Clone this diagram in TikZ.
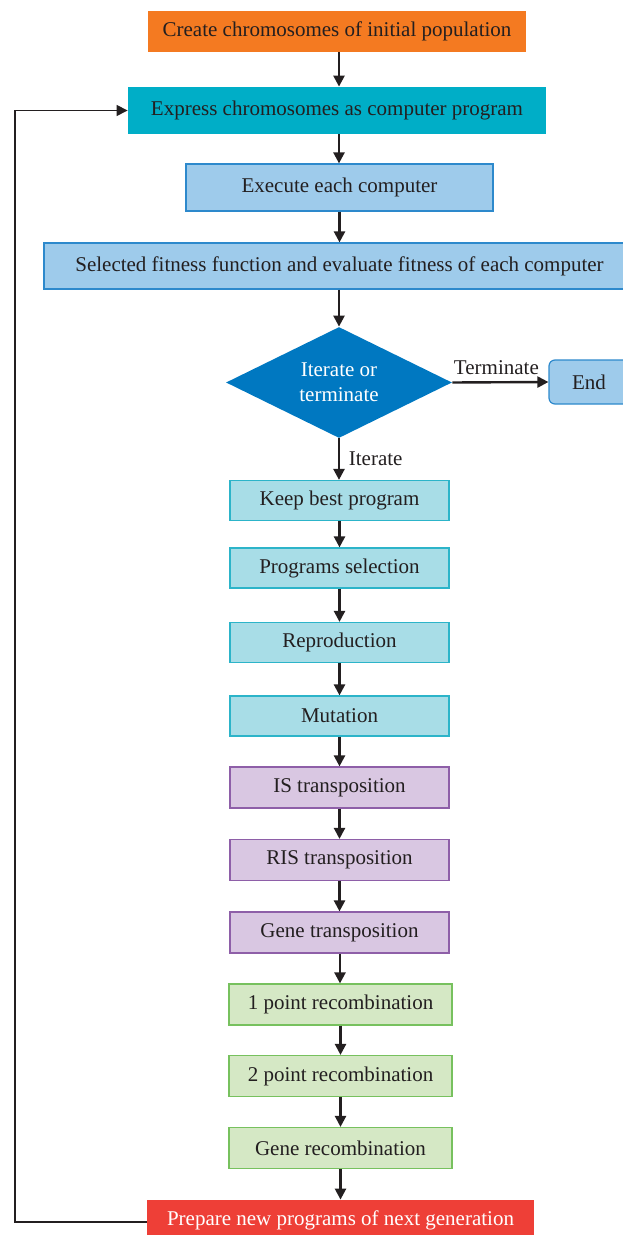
\documentclass[tikz,border=0pt]{standalone}
\usepackage{fontspec}
\setmainfont{Liberation Serif}
\usetikzlibrary{arrows.meta,shapes.geometric}
\definecolor{orangebox}{HTML}{F47A21}
\definecolor{tealbox}{HTML}{00AEC7}
\definecolor{bluefill}{HTML}{9ECBEB}
\definecolor{blueline}{HTML}{2D89CC}
\definecolor{diamondblue}{HTML}{0078C1}
\definecolor{cyanfill}{HTML}{A8DDE7}
\definecolor{cyanline}{HTML}{2CB4C9}
\definecolor{purplefill}{HTML}{D9C7E2}
\definecolor{purpleline}{HTML}{8E5FA8}
\definecolor{greenfill}{HTML}{D5E8C5}
\definecolor{greenline}{HTML}{77C15E}
\definecolor{redbox}{HTML}{EE3F37}
\definecolor{textgray}{HTML}{231F20}
\tikzset{
  box/.style={rectangle, inner sep=0pt, text=textgray, font=\fontsize{10.5}{12.5}\selectfont},
  bluebox/.style={box, fill=bluefill, draw=blueline, line width=0.6pt},
  cyanbox/.style={box, fill=cyanfill, draw=cyanline, line width=0.6pt, minimum width=109.5pt, minimum height=20pt},
  purplebox/.style={box, fill=purplefill, draw=purpleline, line width=0.6pt, minimum width=109.5pt, minimum height=20.5pt},
  greenbox/.style={box, fill=greenfill, draw=greenline, line width=0.6pt, minimum width=111.5pt, minimum height=20.5pt},
  flow/.style={line width=1.2pt, textgray, -{Triangle[width=5.5pt,length=5.5pt]}},
  lbl/.style={text=textgray, font=\fontsize{10.5}{12.5}\selectfont}
}
\begin{document}
\begin{tikzpicture}[x=0.5pt, y=-0.5pt]
  \useasboundingbox (0,0) rectangle (622,1235);
  % top part
  \node[box, fill=orangebox, minimum width=189pt, minimum height=20.5pt] (create) at (337,31.5) {Create chromosomes of initial population};
  \node[box, fill=tealbox, minimum width=209pt, minimum height=23.5pt] (express) at (337,110.5) {Express chromosomes as computer program};
  \node[bluebox, minimum width=153.5pt, minimum height=23.5pt] (execute) at (339.5,187.5) {Execute each computer};
  \node[bluebox, minimum width=295.5pt, minimum height=23pt] (fitness) at (339.5,266) {Selected fitness function and evaluate fitness of each computer};
  \node[diamond, aspect=2.04, fill=diamondblue, inner sep=0pt, minimum width=113pt, minimum height=55.5pt, align=center, text=white, font=\fontsize{10.5}{12.5}\selectfont] (decide) at (339,382.5) {Iterate or\\terminate};
  \node[bluebox, rounded corners=3pt, minimum width=40pt, minimum height=22pt] (finish) at (589,382) {End};
  % operators
  \node[cyanbox] (keep) at (339.5,500.5) {Keep best program};
  \node[cyanbox] (select) at (339.5,568) {Programs selection};
  \node[cyanbox] (reprod) at (339.5,642.5) {Reproduction};
  \node[cyanbox] (mutate) at (339.5,716) {Mutation};
  \node[purplebox] (istr) at (339.5,787.5) {IS transposition};
  \node[purplebox] (ristr) at (339.5,860) {RIS transposition};
  \node[purplebox] (genetr) at (339.5,932.5) {Gene transposition};
  \node[greenbox] (onept) at (340.5,1004.5) {1 point recombination};
  \node[greenbox] (twopt) at (340.5,1076) {2 point recombination};
  \node[greenbox] (generec) at (340.5,1148) {Gene recombination};
  \node[box, fill=redbox, text=white, minimum width=193.5pt, minimum height=20.5pt] (prepare) at (340.5,1220.5) {Prepare new programs of next generation};
  % arrows
  \draw[flow] (create.south -| 339,0) -- (express.north -| 339,0);
  \draw[flow] (express.south -| 339,0) -- (execute.north -| 339,0);
  \draw[flow] (execute) -- (fitness);
  \draw[flow] (fitness.south -| 339,0) -- (decide.north);
  \draw[flow] (decide.east) -- node[lbl, above, xshift=-2pt] {Terminate} (finish.west);
  \draw[flow] (decide.south) -- node[lbl, right, xshift=1pt] {Iterate} (keep.north -| decide.south);
  \draw[flow] (keep) -- (select);
  \draw[flow] (select) -- (reprod);
  \draw[flow] (reprod) -- (mutate);
  \draw[flow] (mutate) -- (istr);
  \draw[flow] (istr) -- (ristr);
  \draw[flow] (ristr) -- (genetr);
  \draw[flow] (genetr.south -| 340,0) -- (onept.north -| 340,0);
  \draw[flow] (onept) -- (twopt);
  \draw[flow] (twopt) -- (generec);
  \draw[flow] (generec) -- (prepare);
  % loop back
  \coordinate (loopturn) at (15,1222);
  \draw[textgray, line width=0.6pt, -{Triangle[width=5.5pt,length=5.5pt]}] (prepare.west |- loopturn) -- (loopturn) |- (express.west);
\end{tikzpicture}
\end{document}
